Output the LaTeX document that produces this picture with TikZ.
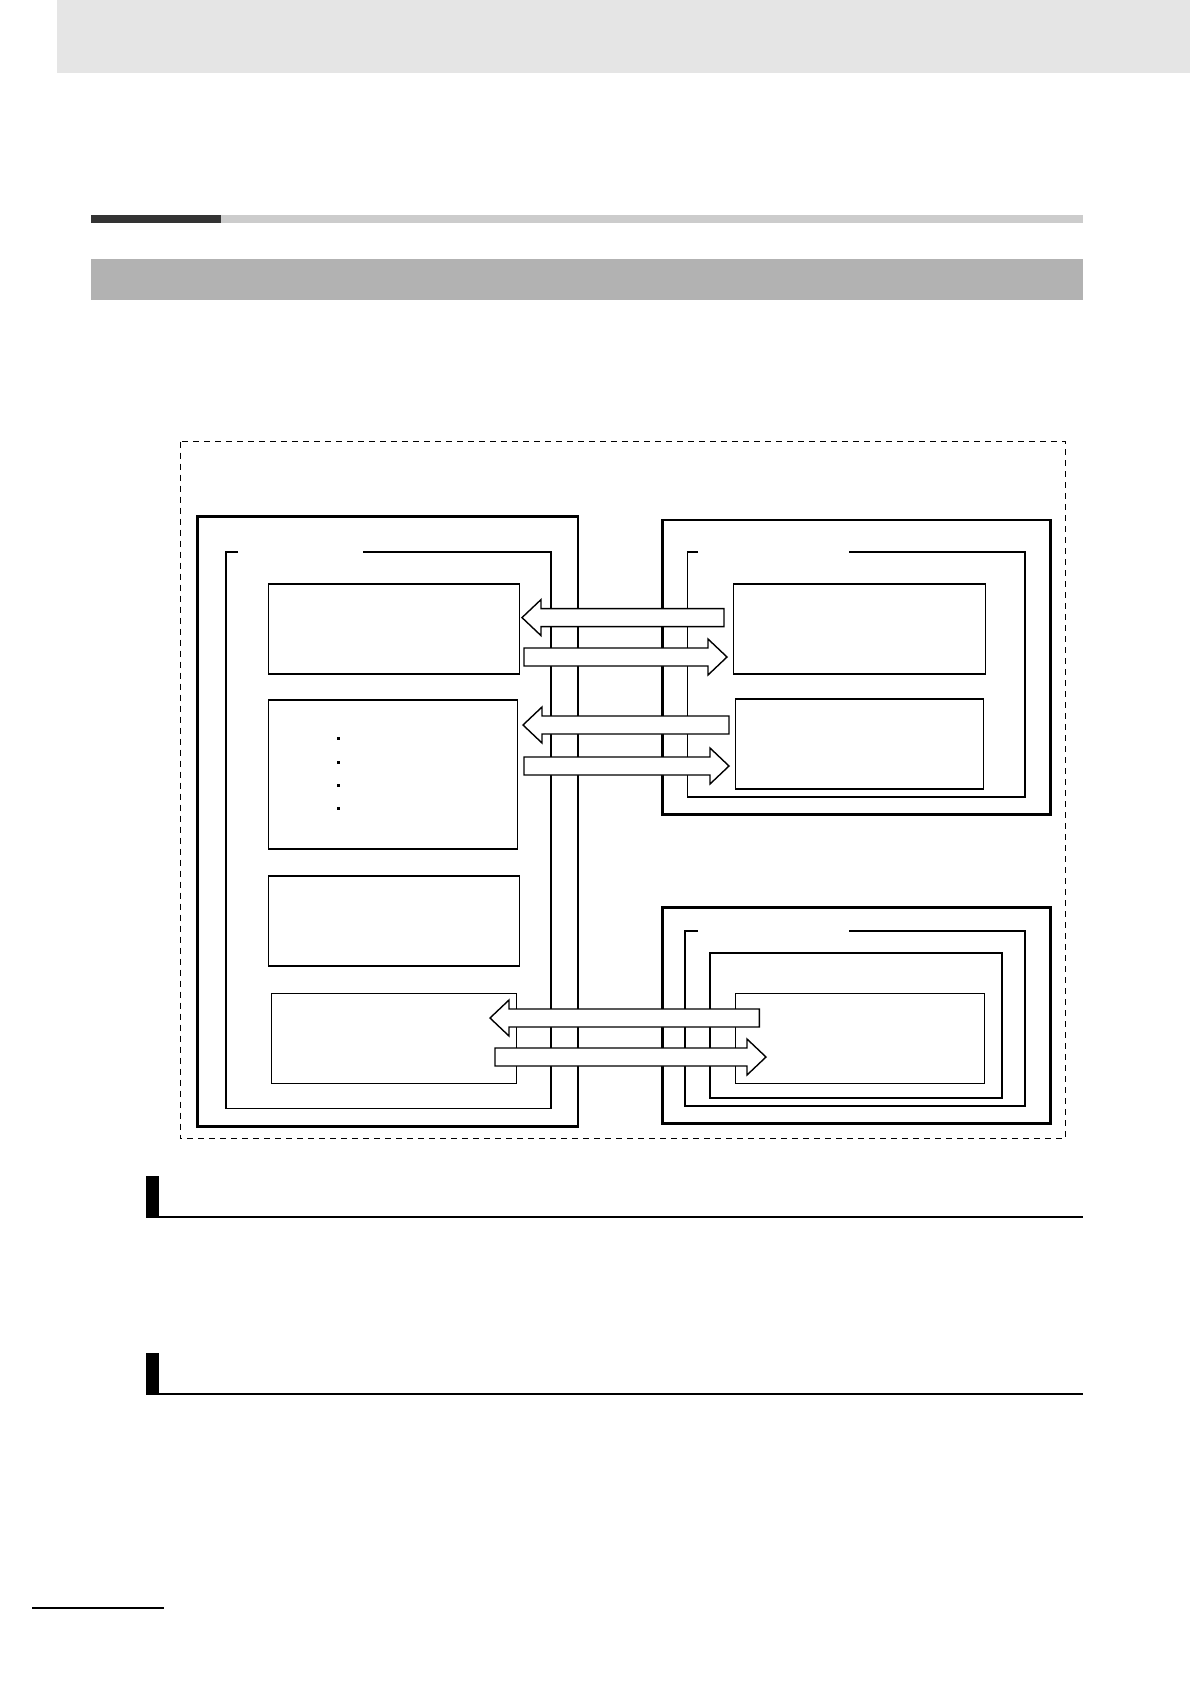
\documentclass[tikz,border=0pt]{standalone}
\begin{document}
\begin{tikzpicture}[x=1pt,y=-1pt,
  box/.style={draw,line width=1.5pt,fill=white,inner sep=0pt,anchor=north west},
  thick frame/.style={line width=2.6pt},
  thin frame/.style={line width=1.8pt},
  arr/.style={draw,line width=1.4pt,fill=white}]
\useasboundingbox (0,0) rectangle (1190,1684);
% page decorations
\fill[gray!20] (57,0) rectangle (1190,73);
\fill[black!80] (91,215) rectangle (221,223);
\fill[black!20] (221,215) rectangle (1083,223);
\fill[black!30] (91,259) rectangle (1083,300);
\fill (146,1176) rectangle (159,1217);
\draw[line width=1.2pt] (146,1217) -- (1083,1217);
\fill (146,1353) rectangle (159,1394);
\draw[line width=1.2pt] (146,1394) -- (1083,1394);
\draw[line width=1.2pt] (32,1608) -- (164,1608);
% dashed outer
\draw[dashed,line width=1.3pt,dash pattern=on 6pt off 5pt] (180.5,441.5) rectangle (1065.5,1138.6);
% left unit
\draw[thick frame] (197.6,516.6) rectangle (577.9,1126.7);
\draw[thin frame] (238,552) -- (225.6,552) -- (225.6,1108.5) -- (551,1108.5) -- (551,552) -- (363,552);
\node[box,minimum width=251pt,minimum height=90pt] (L1) at (267.5,583.2) {};
\node[box,minimum width=249pt,minimum height=149pt] (L2) at (267.5,699) {};
\node[box,minimum width=251pt,minimum height=90pt] (L3) at (267.5,875.4) {};
\node[box,minimum width=245pt,minimum height=90pt] (L4) at (270.7,992.5) {};
\foreach \yy in {738,762,785,808} \fill (336.5,\yy-1.5) rectangle (339.5,\yy+1.5);
% right top unit
\draw[thick frame] (662.7,519.9) rectangle (1050.5,814.2);
\draw[thin frame] (698,552) -- (687.4,552) -- (687.4,797) -- (1024.7,797) -- (1024.7,552) -- (848.6,552);
\node[box,minimum width=252pt,minimum height=90pt] (R1) at (732.6,583.2) {};
\node[box,minimum width=248pt,minimum height=90pt] (R2) at (734.7,698.2) {};
% right bottom unit
\draw[thick frame] (662.7,907.6) rectangle (1050.5,1123.5);
\draw[thin frame] (698,931) -- (685,931) -- (685,1106) -- (1024.7,1106) -- (1024.7,931) -- (848.6,931);
\draw[thin frame] (710,952.7) rectangle (1002,1097.7);
\node[box,minimum width=249pt,minimum height=90pt] (R3) at (734.7,992.5) {};
% arrows: left-pointing (tip x, tail x, y)
\foreach \tx/\rx/\yy in {522/724/617.6, 523/729/725, 490/759.4/1018}
  \draw[arr] (\tx,\yy) -- (\tx+19,\yy-18) -- (\tx+19,\yy-9) -- (\rx,\yy-9) -- (\rx,\yy+9) -- (\tx+19,\yy+9) -- (\tx+19,\yy+18) -- cycle;
\foreach \lx/\tx/\yy in {524/727/657, 524/729/766, 495/766/1057}
  \draw[arr] (\tx,\yy) -- (\tx-19,\yy-18) -- (\tx-19,\yy-9) -- (\lx,\yy-9) -- (\lx,\yy+9) -- (\tx-19,\yy+9) -- (\tx-19,\yy+18) -- cycle;
\end{tikzpicture}
\end{document}
